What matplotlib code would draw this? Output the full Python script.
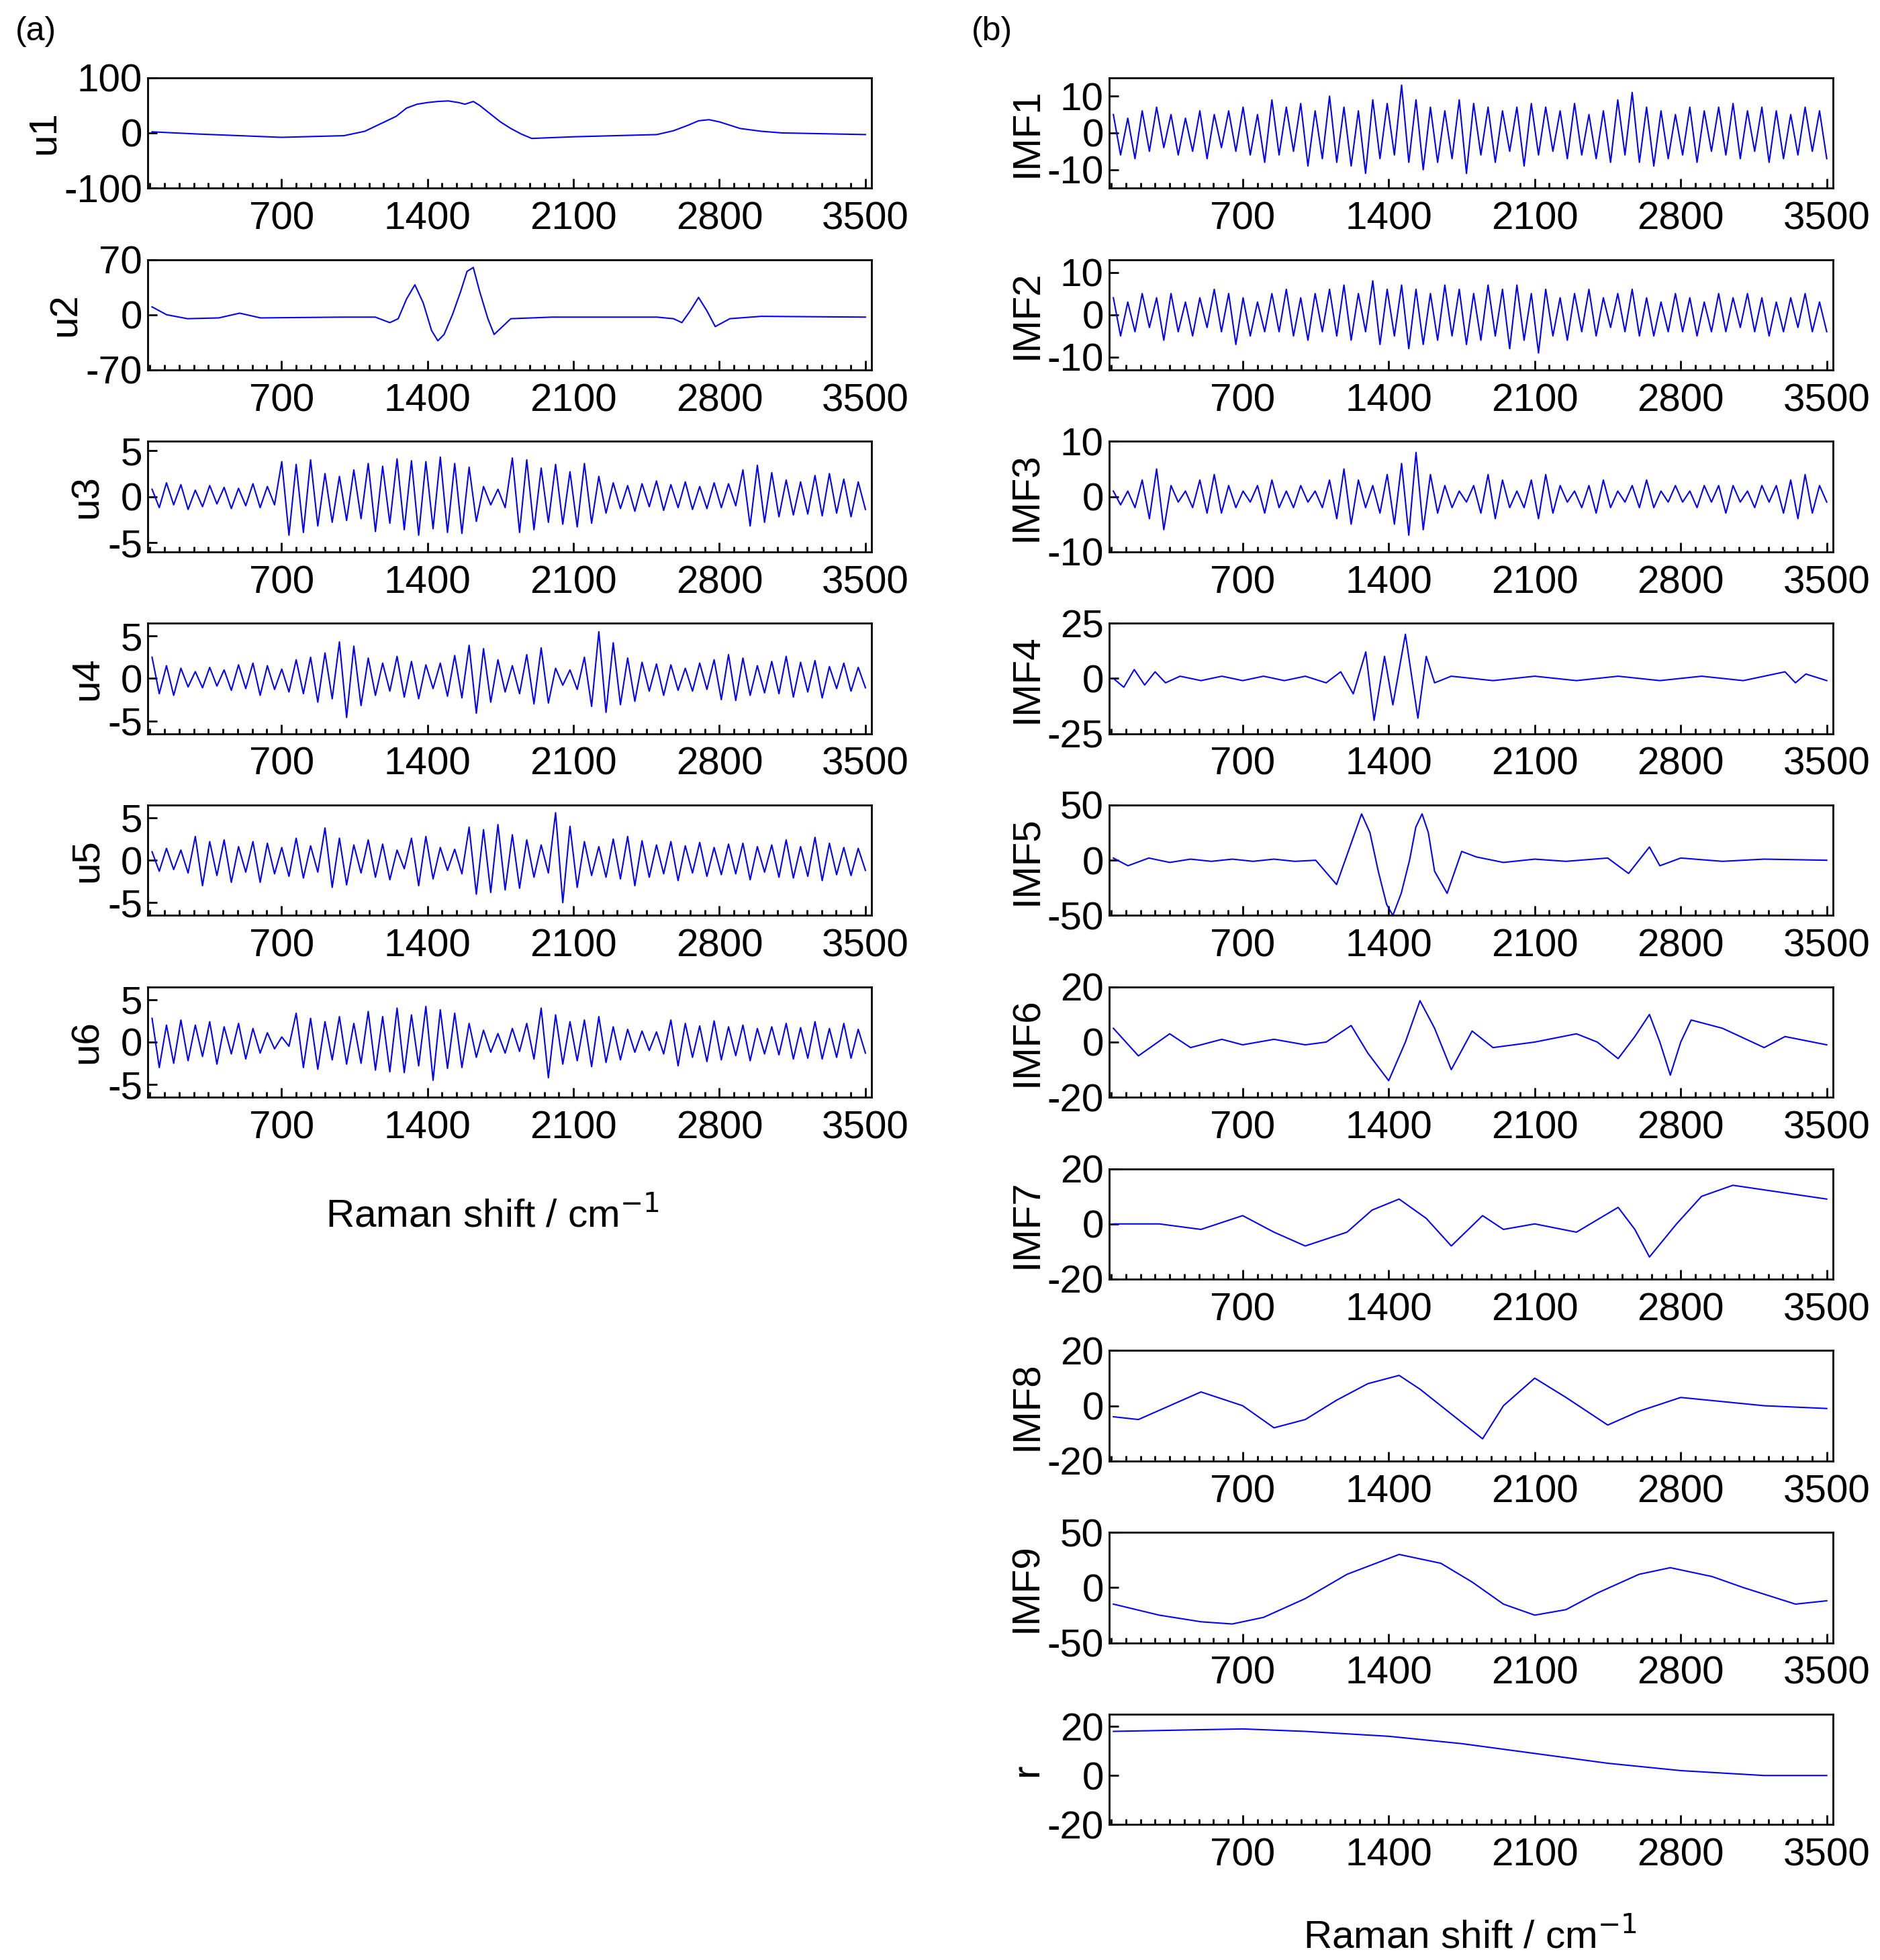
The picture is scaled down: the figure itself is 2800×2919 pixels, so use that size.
import matplotlib
matplotlib.use("Agg")
import matplotlib.pyplot as plt
import numpy as np
from matplotlib.ticker import MultipleLocator

plt.rcParams['font.family'] = ['Arial', 'Liberation Sans', 'DejaVu Sans']
plt.rcParams['axes.unicode_minus'] = False

# ---- smooth components: (shift, value) ----
u1_x = [80, 300, 700, 1000, 1100, 1150, 1250, 1300, 1350, 1400, 1450, 1500, 1550, 1580, 1620, 1650, 1700, 1750, 1800, 1850, 1900, 2100, 2500, 2580, 2650, 2700, 2750, 2800, 2850, 2900, 3000, 3100, 3500]
u1_y = [2, -2, -8, -5, 3, 12, 30, 45, 52, 55, 57, 58, 55, 52, 57, 50, 35, 20, 8, -2, -10, -7, -3, 4, 14, 22, 24, 20, 14, 8, 3, 0, -3]

u2_x = [80, 150, 250, 400, 500, 600, 1000, 1150, 1220, 1260, 1300, 1340, 1380, 1420, 1450, 1480, 1520, 1560, 1590, 1620, 1650, 1690, 1720, 1760, 1800, 2000, 2500, 2580, 2620, 2660, 2700, 2740, 2780, 2850, 3000, 3500]
u2_y = [10, 0, -5, -4, 2, -4, -3, -3, -10, -5, 20, 38, 15, -20, -33, -25, 0, 30, 55, 60, 30, -5, -25, -15, -5, -3, -3, -5, -10, 5, 22, 5, -15, -5, -2, -3]

imf4_x = [80, 130, 180, 230, 280, 330, 400, 500, 600, 700, 800, 900, 1000, 1100, 1170, 1230, 1290, 1330, 1380, 1420, 1480, 1540, 1580, 1620, 1700, 1900, 2100, 2300, 2500, 2700, 2900, 3100, 3300, 3350, 3400, 3500]
imf4_y = [0, -4, 4, -3, 3, -2, 1, -1, 1, -1, 1, -1, 1, -2, 3, -7, 12, -19, 10, -12, 20, -18, 10, -2, 1, -1, 1, -1, 1, -1, 1, -1, 3, -2, 2, -1]

imf5_x = [80, 150, 250, 350, 450, 550, 650, 750, 850, 950, 1050, 1150, 1210, 1270, 1310, 1350, 1390, 1420, 1460, 1500, 1530, 1560, 1590, 1620, 1680, 1750, 1820, 1950, 2100, 2250, 2450, 2550, 2650, 2700, 2800, 3000, 3200, 3500]
imf5_y = [2, -5, 2, -2, 1, -1, 1, -1, 1, -1, 0, -22, 10, 42, 25, -10, -40, -50, -30, 0, 30, 42, 25, -10, -30, 8, 3, -2, 1, -1, 2, -12, 12, -5, 2, -1, 1, 0]

imf6_x = [80, 200, 350, 450, 600, 700, 850, 1000, 1100, 1220, 1300, 1400, 1480, 1550, 1620, 1700, 1800, 1900, 2100, 2300, 2400, 2500, 2580, 2650, 2700, 2750, 2800, 2850, 3000, 3200, 3300, 3500]
imf6_y = [5, -5, 3, -2, 1, -1, 1, -1, 0, 6, -4, -14, 0, 15, 5, -10, 4, -2, 0, 3, 0, -6, 2, 10, 0, -12, 0, 8, 5, -2, 2, -1]

imf7_x = [80, 300, 500, 700, 850, 1000, 1200, 1320, 1450, 1580, 1700, 1850, 1950, 2100, 2300, 2500, 2580, 2650, 2780, 2900, 3050, 3500]
imf7_y = [0, 0, -2, 3, -3, -8, -3, 5, 9, 2, -8, 3, -2, 0, -3, 6, -2, -12, 0, 10, 14, 9]

imf8_x = [80, 200, 350, 500, 700, 850, 1000, 1150, 1300, 1450, 1550, 1650, 1850, 1950, 2100, 2250, 2450, 2600, 2800, 3200, 3500]
imf8_y = [-4, -5, 0, 5, 0, -8, -5, 2, 8, 11, 6, 0, -12, 0, 10, 3, -7, -2, 3, 0, -1]

imf9_x = [80, 300, 500, 650, 800, 1000, 1200, 1450, 1650, 1800, 1950, 2100, 2250, 2400, 2600, 2750, 2950, 3100, 3350, 3500]
imf9_y = [-15, -25, -31, -33, -27, -10, 12, 30, 22, 5, -15, -25, -20, -5, 12, 18, 10, 0, -15, -12]

r_x = [80, 700, 1000, 1400, 1750, 2100, 2450, 2800, 3200, 3500]
r_y = [18, 19, 18, 16, 13, 9, 5, 2, 0, 0]

# ---- oscillating components: samples (evenly spaced 80..3500) ----
u3_y = [0.8, -1.2, 1.5, -0.9, 1.3, -1.4, 0.7, -1.1, 1.2, -0.8, 1.0, -1.3, 0.9, -1.0, 1.4, -1.2, 1.1, -0.9, 3.8, -4.2,
        3.5, -3.9, 4.0, -3.2, 2.5, -2.8, 2.2, -2.6, 2.9, -2.4, 3.6, -3.8, 3.3, -2.9, 4.1, -3.6, 3.9, -4.2, 3.8, -3.5,
        4.3, -3.9, 3.6, -4.0, 3.2, -2.7, 1.1, -0.9, 0.8, -1.2, 4.2, -3.9, 4.0, -3.6, 3.1, -2.8, 3.5, -3.0, 2.7, -3.3,
        3.6, -2.9, 2.2, -1.8, 1.5, -1.3, 1.2, -1.6, 1.4, -1.1, 1.7, -1.5, 1.3, -1.2, 1.6, -1.4, 1.1, -1.3, 1.5, -1.2,
        1.4, -1.0, 2.9, -3.2, 3.4, -2.8, 2.6, -2.2, 1.8, -2.0, 1.6, -1.9, 2.3, -2.1, 2.5, -1.8, 1.9, -2.2, 1.6, -1.4]
u4_y = [2.5, -1.8, 1.5, -2.0, 1.2, -1.0, 0.8, -1.1, 1.3, -0.9, 1.0, -1.4, 1.6, -1.2, 1.8, -2.0, 1.5, -1.3, 1.1, -1.6,
        2.2, -1.8, 2.5, -2.8, 3.0, -2.4, 4.3, -4.6, 3.8, -3.2, 2.4, -2.0, 1.8, -1.5, 2.6, -2.2, 2.0, -2.4, 1.6, -1.2,
        1.8, -2.1, 2.7, -2.3, 3.9, -4.1, 3.5, -2.8, 2.2, -1.6, 1.5, -1.8, 2.8, -3.0, 3.6, -2.9, 1.2, -0.8, 1.0, -1.3,
        2.5, -3.3, 5.5, -4.0, 4.2, -3.1, 2.4, -2.7, 1.9, -1.5, 1.7, -2.0, 1.6, -1.4, 1.2, -1.5, 1.8, -1.3, 2.2, -2.5,
        2.8, -2.6, 2.4, -2.0, 1.5, -1.7, 2.0, -1.8, 2.6, -2.2, 1.9, -1.6, 2.1, -2.3, 1.4, -1.2, 1.8, -1.5, 1.3, -1.1]
u5_y = [1.0, -1.3, 1.4, -1.1, 1.2, -1.5, 2.8, -3.0, 2.2, -1.8, 2.4, -2.6, 1.6, -1.4, 2.2, -2.6, 2.0, -1.6, 1.5, -1.9,
        2.6, -2.1, 1.7, -1.4, 3.8, -3.2, 2.6, -2.9, 1.8, -1.5, 2.4, -2.0, 1.9, -2.3, 1.2, -1.0, 2.6, -3.0, 2.8, -2.2,
        1.5, -1.2, 1.3, -1.6, 3.9, -4.0, 3.6, -3.8, 4.2, -3.5, 3.0, -3.3, 2.4, -2.0, 1.8, -1.5, 5.6, -5.0, 4.0, -3.2,
        2.2, -1.8, 1.6, -2.0, 2.5, -2.2, 2.8, -3.0, 2.3, -2.0, 1.8, -1.6, 2.2, -2.4, 1.7, -1.5, 2.1, -1.9, 1.5, -1.7,
        1.9, -1.6, 2.0, -2.3, 1.6, -1.4, 1.8, -2.0, 2.4, -2.1, 1.6, -1.9, 2.7, -2.4, 2.0, -1.7, 1.5, -1.8, 1.4, -1.2]
u6_y = [2.8, -3.0, 2.0, -2.5, 2.6, -2.2, 2.0, -1.7, 2.4, -2.6, 1.8, -1.4, 2.2, -2.0, 1.6, -1.3, 1.1, -0.8, 0.6, -0.5,
        3.4, -3.0, 2.8, -3.2, 2.4, -2.1, 3.0, -2.6, 2.2, -2.5, 3.6, -3.3, 3.0, -3.5, 4.0, -3.6, 3.2, -2.8, 4.2, -4.5,
        3.8, -3.1, 3.4, -3.0, 2.2, -1.8, 1.4, -1.2, 1.0, -1.3, 1.6, -1.1, 2.2, -2.0, 4.0, -4.2, 3.2, -2.6, 2.4, -2.2,
        2.6, -2.9, 3.0, -2.4, 1.8, -2.1, 1.5, -1.2, 1.3, -1.0, 1.2, -1.4, 2.6, -2.8, 2.2, -1.8, 1.9, -2.3, 2.5, -2.1,
        1.8, -1.6, 2.0, -2.2, 1.6, -1.4, 1.8, -1.5, 2.2, -2.0, 1.7, -1.9, 2.4, -2.0, 1.6, -1.8, 2.2, -1.9, 1.5, -1.3]
imf1_y = [5, -6, 4, -7, 6, -5, 7, -4, 5, -6, 4, -5, 6, -7, 5, -4, 6, -5, 7, -6, 5, -8, 9, -6, 7, -5, 8, -9, 6, -7,
          10, -8, 7, -9, 6, -11, 9, -7, 8, -6, 13, -8, 9, -10, 7, -8, 6, -7, 9, -11, 8, -6, 7, -8, 6, -5, 7, -9, 8, -6,
          7, -5, 6, -7, 8, -6, 5, -7, 6, -8, 9, -6, 11, -8, 7, -9, 6, -7, 5, -6, 7, -8, 6, -5, 7, -6, 8, -7, 6, -5,
          7, -8, 6, -7, 5, -6, 7, -5, 6, -7]
imf2_y = [4, -5, 3, -4, 5, -3, 4, -6, 5, -4, 3, -5, 4, -3, 6, -4, 5, -7, 4, -5, 3, -4, 5, -4, 6, -5, 4, -6, 5, -4,
          6, -5, 7, -6, 5, -4, 8, -7, 6, -5, 7, -8, 6, -7, 5, -6, 7, -5, 6, -7, 5, -6, 7, -5, 6, -8, 7, -6, 5, -9,
          6, -5, 4, -6, 5, -4, 6, -5, 4, -3, 5, -4, 6, -5, 4, -5, 3, -4, 5, -4, 4, -5, 3, -4, 5, -4, 4, -3, 5, -4,
          4, -5, 3, -4, 4, -3, 5, -4, 3, -4]
imf3_y = [1, -1.5, 1, -2, 3, -4, 5, -6, 2, -1, 1, -2, 3, -3, 4, -3, 2, -2, 1, -1, 2, -3, 3, -2, 1, -2, 2, -1, 1, -2,
          3, -4, 5, -5, 3, -2, 2, -3, 4, -5, 6, -7, 8, -6, 4, -3, 2, -2, 1, -1, 2, -3, 4, -4, 3, -2, 1, -2, 3, -4,
          4, -3, 2, -1, 1, -2, 2, -3, 3, -2, 1, -1, 2, -2, 3, -2, 1, -1, 2, -1, 1, -2, 2, -1, 2, -3, 2, -1, 1, -2,
          2, -1, 2, -3, 3, -4, 4, -3, 2, -1]

def osc_x(vals):
    return np.linspace(80, 3500, len(vals))

left = [
    ("u1", u1_x, u1_y, (-100, 100), [-100, 0, 100]),
    ("u2", u2_x, u2_y, (-70, 70), [-70, 0, 70]),
    ("u3", osc_x(u3_y), u3_y, (-6, 6), [-5, 0, 5]),
    ("u4", osc_x(u4_y), u4_y, (-6.5, 6.5), [-5, 0, 5]),
    ("u5", osc_x(u5_y), u5_y, (-6.5, 6.5), [-5, 0, 5]),
    ("u6", osc_x(u6_y), u6_y, (-6.5, 6.5), [-5, 0, 5]),
]
right = [
    ("IMF1", osc_x(imf1_y), imf1_y, (-15, 15), [-10, 0, 10]),
    ("IMF2", osc_x(imf2_y), imf2_y, (-13, 13), [-10, 0, 10]),
    ("IMF3", osc_x(imf3_y), imf3_y, (-10, 10), [-10, 0, 10]),
    ("IMF4", imf4_x, imf4_y, (-25, 25), [-25, 0, 25]),
    ("IMF5", imf5_x, imf5_y, (-50, 50), [-50, 0, 50]),
    ("IMF6", imf6_x, imf6_y, (-20, 20), [-20, 0, 20]),
    ("IMF7", imf7_x, imf7_y, (-20, 20), [-20, 0, 20]),
    ("IMF8", imf8_x, imf8_y, (-20, 20), [-20, 0, 20]),
    ("IMF9", imf9_x, imf9_y, (-50, 50), [-50, 0, 50]),
    ("r", r_x, r_y, (-20, 25), [-20, 0, 20]),
]

H = 1563.0
fig = plt.figure(figsize=(28, 29.19), dpi=100)
fs = 42

def draw(col_x0, rows):
    for i, (name, x, y, lim, ticks) in enumerate(rows):
        top = 62 + 145 * i
        ax = fig.add_axes([col_x0, 1 - (top + 88) / H, 0.385, 88 / H])
        ax.plot(x, y, color='#0000ff', lw=1.5)
        ax.set_xlim(60, 3530)
        ax.set_ylim(*lim)
        ax.set_yticks(ticks)
        ax.set_xticks([700, 1400, 2100, 2800, 3500])
        ax.xaxis.set_minor_locator(MultipleLocator(70))
        ax.tick_params(direction='in', labelsize=fs, length=10, width=2)
        ax.tick_params(axis='x', pad=14)
        ax.tick_params(axis='y', pad=6)
        ax.tick_params(which='minor', direction='in', length=6, width=2)
        ax.set_ylabel(name, fontsize=fs, labelpad=2)
        for s in ax.spines.values():
            s.set_linewidth(2)

draw(118 / 1500, left)
draw(885 / 1500, right)

fig.text(12 / 1500, 1 - 25 / H, "(a)", fontsize=36, va='center')
fig.text(775 / 1500, 1 - 25 / H, "(b)", fontsize=36, va='center')
fig.text(393 / 1500, 1 - 970 / H, "Raman shift / cm$^{-1}$", fontsize=fs, ha='center', va='center')
fig.text(1173 / 1500, 1 - 1545 / H, "Raman shift / cm$^{-1}$", fontsize=fs, ha='center', va='center')

fig.savefig("out.png", dpi=100)
